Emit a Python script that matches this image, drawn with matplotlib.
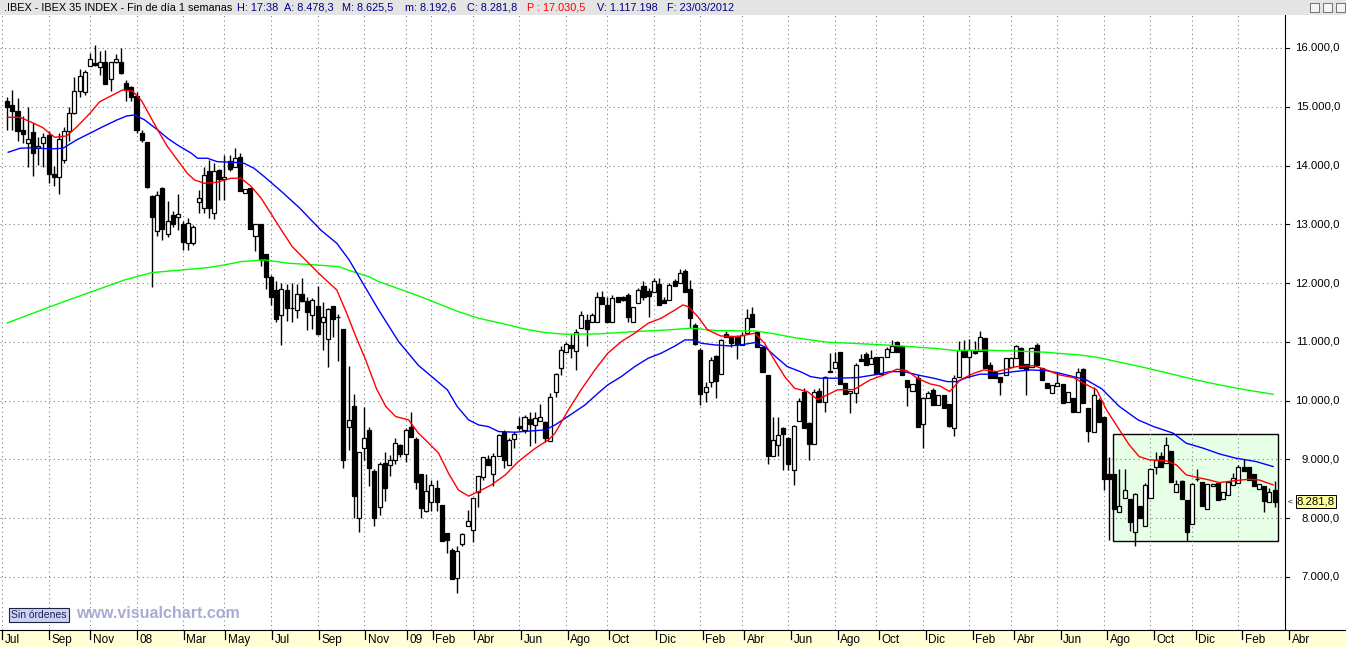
import numpy as np
import pandas as pd
import matplotlib
matplotlib.use("Agg")
import matplotlib.pyplot as plt
from matplotlib.patches import Rectangle

plt.rcParams['font.family'] = ['Liberation Sans', 'DejaVu Sans']

# weekly candles, week 1 = 13/07/2007 ... week 246 = 23/03/2012 (week 0 = 06/07/2007)
opens = [
    15100, 15030, 14930, 14610, 14390, 14570, 14300, 14380, 14520, 13860,
    13810, 14100, 14580, 14900, 15260, 15250, 15690, 15740, 15670, 15760,
    15470, 15760, 15760, 15410, 15340, 15180, 14550, 14400, 13480, 12880,
    13610, 12830, 13160, 13130, 13000, 12680, 12680, 13380, 13270, 13900,
    13200, 13930, 13770, 14080, 13980, 14150, 13530, 13610, 12800, 13000,
    12500, 12100, 11880, 11450, 11880, 11570, 11540, 11820, 11690, 11450,
    11610, 11340, 11050, 11610, 11420, 11220, 9560, 9910, 8000, 9190,
    9500, 8810, 8190, 8940, 8910, 8990, 9250, 9090, 9550, 9350,
    8750, 8120, 8280, 8510, 8230, 7750, 7460, 6980, 7560, 7870,
    7800, 8440, 8700, 9010, 8750, 9060, 9470, 8910, 9350, 9570,
    9500, 9680, 9590, 9660, 9640, 9320, 10140, 10550, 10820, 10950,
    10850, 11240, 11370, 11330, 11330, 11770, 11630, 11330, 11760, 11760,
    11800, 11340, 11660, 11950, 11860, 11850, 11980, 11710, 11710, 12030,
    12010, 12210, 11900, 11290, 10860, 10140, 10310, 10760, 10460, 11130,
    11080, 11100, 10950, 11150, 11470, 11160, 10920, 10440, 9060, 9240,
    9540, 9370, 8820, 9660, 10150, 9620, 9260, 10170, 9980, 10510,
    10550, 10820, 10300, 10130, 10130, 10710, 10790, 10630, 10740, 10460,
    10740, 10820, 10990, 10930, 10350, 10170, 10390, 9600, 10040, 10180,
    9930, 10100, 9950, 9540, 10400, 10860, 10740, 10850, 10850, 11060,
    10610, 10490, 10410, 10440, 10580, 10730, 10900, 10620, 10580, 10940,
    10560, 10300, 10130, 10250, 10290, 9970, 10050, 9800, 10540, 9880,
    9460, 10010, 9720, 8750, 8750, 8100, 8340, 8330, 7770, 8200,
    7860, 8350, 8870, 9050, 8940, 9150, 8450, 8640, 8310, 7900,
    8660, 8610, 8150, 8540, 8600, 8320, 8400, 8570, 8600, 8870,
    8870, 8750, 8490, 8540, 8280, 8478.3,
]
highs = [
    15170, 15290, 15150, 14840, 15000, 14720, 14490, 14550, 14590, 14000,
    14550, 14660, 14990, 15510, 15640, 15630, 15920, 16050, 15950, 15970,
    15760, 15900, 16000, 15460, 15360, 15250, 14600, 14400, 13500, 13560,
    13640, 13390, 13230, 13520, 13050, 13100, 12990, 13590, 13980, 14100,
    14040, 13940, 14180, 14180, 14290, 14210, 13600, 13620, 13000, 13000,
    12500, 12140, 12030, 12000, 11990, 12010, 11990, 12080, 11770, 11750,
    11950, 11670, 11570, 11610, 11480, 11220, 10590, 10120, 9130, 9900,
    9560, 8830, 8950, 9130, 9080, 9360, 9260, 9530, 9810, 9390,
    8750, 8750, 8650, 8650, 8230, 7750, 7490, 7520, 7750, 8140,
    8340, 8720, 9040, 9080, 9110, 9430, 9500, 9360, 9470, 9730,
    9760, 9810, 9810, 9940, 9650, 10130, 10470, 10930, 10990, 11140,
    11220, 11520, 11480, 11490, 11840, 11860, 11770, 11800, 11770, 11780,
    11830, 11600, 11920, 12030, 11910, 12080, 12080, 11770, 12000, 12070,
    12240, 12240, 12050, 11320, 10890, 10320, 10750, 10770, 11050, 11180,
    11100, 11110, 11170, 11560, 11600, 11170, 10920, 10440, 9730, 9730,
    9560, 9390, 9580, 10040, 10210, 9640, 10190, 10210, 10420, 10810,
    10830, 10830, 10300, 10170, 10640, 10790, 10830, 10860, 10740, 10740,
    10920, 11030, 11020, 10930, 10350, 10280, 10440, 10070, 10160, 10210,
    10100, 10100, 9950, 10440, 11020, 11030, 11050, 11020, 11180, 11060,
    10660, 10500, 10410, 10720, 10740, 10950, 10910, 10620, 10910, 10980,
    10560, 10300, 10270, 10490, 10290, 10140, 10050, 10560, 10560, 9880,
    10240, 10040, 9720, 9040, 8750, 8830, 8830, 8330, 8430, 8200,
    8600, 8850, 9120, 9120, 9380, 9150, 8650, 8650, 8310, 8600,
    8830, 8610, 8580, 8580, 8600, 8450, 8610, 8770, 8910, 9000,
    8870, 8750, 8580, 8540, 8510, 8625.5,
]
lows = [
    14610, 14610, 14410, 14380, 13980, 13830, 14010, 13980, 13700, 13650,
    13520, 14040, 14410, 14880, 15170, 15200, 15690, 15690, 15540, 15380,
    15260, 15740, 15560, 15100, 15100, 14550, 14400, 13610, 11940, 12800,
    12730, 12790, 12960, 12900, 12560, 12560, 12650, 13190, 13190, 13110,
    13090, 13420, 13420, 13900, 13980, 13570, 13530, 12920, 12540, 12290,
    11900, 11630, 11340, 10940, 11360, 11330, 11400, 11680, 11200, 11220,
    11120, 10860, 10580, 11090, 10680, 8850, 9160, 8000, 7760, 8990,
    8540, 7860, 8050, 8300, 8720, 8920, 9040, 8960, 9380, 8500,
    8000, 8100, 8130, 8130, 7620, 7400, 6960, 6730, 7530, 7870,
    7600, 8190, 8650, 8900, 8540, 9060, 8850, 8910, 9190, 9500,
    9450, 9220, 9280, 9660, 9300, 9320, 10070, 10440, 10820, 10720,
    10520, 11240, 10930, 11330, 11330, 11640, 11330, 11330, 11670, 11700,
    11340, 11340, 11660, 11710, 11430, 11850, 11630, 11660, 11710, 11950,
    12010, 11840, 11230, 10940, 9930, 9980, 10230, 10050, 10460, 11080,
    10920, 10710, 10950, 11150, 11260, 10920, 10490, 8920, 9060, 9050,
    8820, 8820, 8570, 9660, 9540, 8990, 9260, 9980, 9810, 10480,
    10550, 10280, 10110, 9790, 9960, 10680, 10610, 10630, 10450, 10460,
    10740, 10820, 10820, 10430, 9910, 10170, 9560, 9200, 10040, 9920,
    9930, 9870, 9560, 9400, 10400, 10750, 10390, 10800, 10850, 10560,
    10390, 10390, 10090, 10440, 10580, 10730, 10560, 10100, 10580, 10610,
    10350, 10220, 10130, 10250, 9960, 9970, 9810, 9800, 9960, 9300,
    9460, 9640, 8480, 7630, 8150, 8100, 8340, 7790, 7520, 8010,
    7860, 8350, 8750, 8870, 8940, 8610, 8450, 8320, 7620, 7900,
    8640, 8210, 8150, 8540, 8310, 8320, 8400, 8570, 8600, 8810,
    8650, 8540, 8490, 8110, 8280, 8192.6,
]
closes = [
    15000, 14920, 14580, 14540, 14450, 14220, 14330, 14490, 13860, 13810,
    14450, 14580, 14890, 15260, 15520, 15590, 15810, 15710, 15760, 15380,
    15760, 15810, 15570, 15290, 15170, 14600, 14430, 13640, 13130, 13500,
    12920, 13060, 13010, 13170, 12700, 13020, 12960, 13440, 13840, 13270,
    13910, 13770, 13800, 13940, 14120, 13570, 13600, 12920, 13000, 12390,
    12100, 11770, 11390, 11900, 11580, 11570, 11820, 11690, 11500, 11710,
    11140, 11420, 11560, 11390, 11420, 8990, 9670, 8370, 9130, 9360,
    8850, 8000, 8920, 8510, 8990, 9280, 9090, 9500, 9390, 8620,
    8180, 8470, 8570, 8280, 7620, 7630, 6960, 7440, 7730, 7960,
    8340, 8710, 9040, 8910, 9060, 9420, 8990, 9330, 9430, 9530,
    9720, 9600, 9700, 9730, 9360, 10060, 10450, 10860, 10960, 10900,
    11160, 11460, 11220, 11460, 11770, 11640, 11330, 11740, 11670, 11720,
    11420, 11590, 11880, 11770, 11780, 12030, 11630, 11660, 11970, 11950,
    12180, 11840, 11400, 10960, 10110, 10230, 10690, 10340, 11030, 11080,
    10980, 10970, 11120, 11410, 11260, 10920, 10490, 9050, 9330, 9420,
    9430, 8920, 9570, 10000, 9540, 9260, 10150, 9980, 10400, 10480,
    10650, 10280, 10110, 10170, 10600, 10680, 10610, 10730, 10450, 10740,
    10880, 10930, 10820, 10430, 10230, 10280, 9560, 10040, 10130, 9920,
    10100, 9870, 9570, 10390, 10860, 10750, 10860, 10810, 11080, 10560,
    10390, 10390, 10320, 10720, 10730, 10930, 10560, 10520, 10900, 10610,
    10350, 10220, 10270, 10300, 9960, 10140, 9810, 10490, 9960, 9490,
    10090, 9640, 8670, 8670, 8150, 8210, 8480, 7930, 8410, 8010,
    8570, 8830, 8990, 8870, 9250, 8610, 8580, 8320, 7770, 8580,
    8670, 8210, 8580, 8580, 8310, 8450, 8610, 8680, 8870, 8810,
    8650, 8540, 8580, 8300, 8450, 8281.8,
]

# moving averages (week number, value)
red_wk = [1.0, 3.5, 6.0, 7.9, 9.2, 10.2, 12.5, 14.5, 17.0, 18.9,
          20.8, 23.3, 25.2, 27.0, 30.1, 32.0, 33.9, 35.8, 37.2, 39.1,
          41.6, 44.3, 46.2, 48.2, 50.1, 54.0, 56.1, 59.3, 60.9, 62.6,
          64.7, 66.5, 68.4, 70.3, 72.4, 74.2, 76.1, 78.6, 80.5, 82.5,
          84.4, 86.3, 88.2, 90.2, 92.1, 94.6, 97.3, 99.8, 103.1, 105.6,
          106.9, 109.4, 111.9, 114.6, 117.1, 119.7, 122.3, 124.9, 127.4, 130.1,
          131.6, 132.6, 134.5, 136.4, 138.9, 142.2, 145.5, 147.4, 149.3, 151.3,
          153.2, 155.7, 157.6, 159.5, 161.5, 164.7, 167.8, 170.5, 173.0, 174.9,
          176.9, 179.4, 181.3, 183.2, 185.2, 187.9, 189.8, 192.3, 196.1, 199.4,
          201.9, 204.4, 207.1, 209.1, 211.6, 213.5, 216.0, 217.9, 219.8, 221.8,
          225.0, 227.0, 228.9, 230.8, 233.3, 235.3, 238.5, 241.0, 243.0, 245.7]
red_val = [14821, 14820, 14724, 14645, 14549, 14481, 14503, 14661, 14889, 15087,
           15172, 15286, 15269, 15100, 14605, 14321, 14095, 13869, 13755, 13698,
           13716, 13784, 13784, 13641, 13443, 12904, 12620, 12337, 12195, 12054,
           11884, 11515, 11089, 10693, 10200, 9899, 9729, 9672, 9446, 9276,
           9106, 8766, 8482, 8375, 8453, 8567, 8737, 8964, 9191, 9332,
           9446, 9830, 10180, 10523, 10807, 11004, 11147, 11317, 11402, 11543,
           11628, 11600, 11430, 11203, 11101, 11089, 11147, 10977, 10693, 10409,
           10211, 10154, 10020, 10097, 10183, 10190, 10353, 10438, 10535, 10511,
           10382, 10285, 10250, 10154, 10353, 10467, 10523, 10494, 10579, 10596,
           10523, 10438, 10392, 10296, 10183, 9842, 9502, 9247, 9049, 8992,
           8980, 8907, 8737, 8698, 8652, 8606, 8640, 8663, 8650, 8567]

blue_wk = [1.2, 3.5, 6.0, 9.2, 11.8, 14.4, 17.0, 19.5, 22.2, 24.1,
           25.6, 27.5, 30.1, 32.0, 33.9, 36.6, 37.8, 39.7, 41.6, 44.9,
           46.8, 48.7, 50.7, 54.0, 57.5, 61.6, 64.7, 67.1, 69.0, 70.9, 72.8,
           76.7, 80.5, 86.1, 88.0, 90.2, 92.1, 94.0, 96.0, 99.2, 102.3,
           105.0, 106.9, 108.9, 110.8, 112.7, 115.2, 117.1, 119.7, 122.3, 124.9,
           127.4, 130.1, 132.0, 133.9, 135.1, 137.8, 140.6, 142.8, 145.5, 147.4,
           149.9, 151.8, 154.3, 156.3, 158.2, 161.5, 165.3, 168.6, 171.7, 174.4,
           176.9, 180.1, 182.7, 184.6, 186.5, 189.0, 192.3, 195.6, 198.7, 201.9,
           204.4, 207.1, 209.6, 212.6, 216.0, 219.6, 222.6, 226.4, 228.9, 232.2,
           235.3, 238.5, 242.4, 245.7]
blue_val = [14226, 14294, 14304, 14282, 14294, 14435, 14549, 14661, 14775, 14843,
            14860, 14780, 14605, 14464, 14350, 14209, 14124, 14124, 14066, 14055,
            14038, 13954, 13811, 13560, 13280, 12904, 12678, 12394, 12110, 11827, 11543,
            11000, 10600, 10183, 9899, 9672, 9587, 9559, 9474, 9463, 9485,
            9502, 9587, 9701, 9814, 9927, 10126, 10268, 10409, 10579, 10721,
            10807, 10931, 11033, 11033, 10977, 10948, 10931, 10948, 10988, 10919,
            10721, 10579, 10494, 10409, 10382, 10382, 10392, 10438, 10494, 10494,
            10438, 10382, 10324, 10324, 10392, 10450, 10450, 10494, 10523, 10510,
            10467, 10409, 10353, 10200, 9900, 9672, 9559, 9446, 9276, 9191,
            9094, 9021, 8964, 8879]

green_wk = [1.0, 11.2, 23.7, 28.9, 33.3, 39.7, 43.0, 46.2, 50.7, 55.5,
            60.7, 65.1, 68.4, 70.9, 72.8, 80.0, 88.2, 92.1, 96.5, 101.2,
            105.0, 108.9, 115.2, 122.3, 128.7, 133.1, 138.3, 145.5, 148.6, 153.2,
            159.5, 164.0, 170.5, 175.5, 180.1, 184.6, 189.0, 195.6, 201.9, 203.9,
            208.3, 211.6, 221.0, 230.8, 235.3, 240.5, 245.7]
green_val = [11322, 11660, 12054, 12178, 12212, 12263, 12309, 12365, 12394, 12337,
             12309, 12280, 12178, 12110, 12025, 11800, 11515, 11402, 11317, 11215,
             11158, 11130, 11135, 11175, 11203, 11232, 11192, 11186, 11147, 11072,
             10994, 10977, 10948, 10919, 10891, 10851, 10860, 10846, 10823, 10807,
             10778, 10739, 10560, 10353, 10268, 10183, 10109]

# month labels on the time axis
month_labels = [(2007, 7, 'Jul'), (2007, 9, 'Sep'), (2007, 11, 'Nov'), (2008, 1, '08'),
                (2008, 3, 'Mar'), (2008, 5, 'May'), (2008, 7, 'Jul'), (2008, 9, 'Sep'),
                (2008, 11, 'Nov'), (2009, 1, '09'), (2009, 2, 'Feb'), (2009, 4, 'Abr'),
                (2009, 6, 'Jun'), (2009, 8, 'Ago'), (2009, 10, 'Oct'), (2009, 12, 'Dic'),
                (2010, 2, 'Feb'), (2010, 4, 'Abr'), (2010, 6, 'Jun'), (2010, 8, 'Ago'),
                (2010, 10, 'Oct'), (2010, 12, 'Dic'), (2011, 2, 'Feb'), (2011, 4, 'Abr'),
                (2011, 6, 'Jun'), (2011, 8, 'Ago'), (2011, 10, 'Oct'), (2011, 12, 'Dic'),
                (2012, 2, 'Feb'), (2012, 4, 'Abr')]
price_ticks = list(range(7000, 17000, 1000))

# highlighted zone (weeks, prices)
zone_weeks = (214.8, 246.6)
zone_prices = (7613, 9433)


def es(v):
    """Spanish number format 8.281,8"""
    s = f"{v:,.1f}"
    return s.replace(',', 'X').replace('.', ',').replace('X', '.')


W, H = 1346, 647
X0, PXW = 2.0, 5.19          # pixel of week 0, pixels per week
Y_TOP, Y_BOT = 16561, 6098   # prices at top / bottom of the plot area


def box(x0, y0, x1, y1):
    return [x0 / W, 1 - y1 / H, (x1 - x0) / W, (y1 - y0) / H]


fig = plt.figure(figsize=(W / 100, H / 100), dpi=100)
fig.patch.set_facecolor('white')

ax = fig.add_axes(box(0, 15, 1285, 630))
ax.set_xlim(-X0 / PXW, (1285 - X0) / PXW)
ax.set_ylim(Y_BOT, Y_TOP)
for s in ax.spines.values():
    s.set_visible(False)

dates = pd.date_range('2007-07-06', periods=270, freq='W-FRI')
tick_pos = []
for y, m, lab in month_labels:
    idx = np.where((dates.year == y) & (dates.month == m))[0][0]
    tick_pos.append(idx)

ax.set_xticks(tick_pos)
ax.set_yticks(price_ticks)
ax.tick_params(length=0, labelbottom=False, labelleft=False)
ax.set_axisbelow(True)
ax.grid(True, color='#808080', linestyle=(0, (1, 3)), linewidth=0.8)

ax.add_patch(Rectangle((zone_weeks[0], zone_prices[0]), zone_weeks[1] - zone_weeks[0],
                       zone_prices[1] - zone_prices[0], facecolor='#e6ffe6',
                       edgecolor='black', linewidth=1.0, zorder=0.3))

wk = np.arange(1, len(closes) + 1)
o = np.array(opens)
c = np.array(closes)
hi = np.array(highs)
lo = np.array(lows)
up = c >= o
ax.vlines(wk, lo, hi, color='black', linewidth=1.0, zorder=2)
ax.bar(wk, np.abs(c - o), bottom=np.minimum(o, c), width=0.78,
       color=np.where(up, 'white', 'black'), edgecolor='black', linewidth=0.9, zorder=3)

ax.plot(green_wk, green_val, color='#00ff00', linewidth=1.0, zorder=4)
ax.plot(blue_wk, blue_val, color='#0000ff', linewidth=1.0, zorder=4)
ax.plot(red_wk, red_val, color='#ff0000', linewidth=1.0, zorder=4)

# price scale on the right
axr = fig.add_axes(box(1285, 15, 1346, 630))
axr.set_xlim(0, 61)
axr.set_ylim(Y_BOT, Y_TOP)
axr.set_xticks([])
axr.set_yticks([])
axr.set_facecolor('white')
for k, s in axr.spines.items():
    s.set_visible(k == 'left')
for v in price_ticks:
    axr.text(55, v, es(v), ha='right', va='center', fontsize=8.2, color='black')
    axr.plot([0, 4], [v, v], color='black', linewidth=0.8)
axr.text(3, closes[-1], '<', ha='left', va='center', fontsize=6, color='black')
axr.text(31, closes[-1], es(closes[-1]), ha='center', va='center', fontsize=8.2,
         bbox=dict(boxstyle='square,pad=0.12', facecolor='#ffff99', edgecolor='black', linewidth=0.7))

# time axis strip
axb = fig.add_axes(box(0, 630, 1346, 647))
axb.set_xlim(-X0 / PXW, (1346 - X0) / PXW)
axb.set_ylim(0, 1)
axb.set_facecolor('#ffffd6')
axb.set_xticks([])
axb.set_yticks([])
for k, s in axb.spines.items():
    s.set_visible(k == 'top')
for p, (y, m, lab) in zip(tick_pos, month_labels):
    axb.plot([p, p], [1, 0.45], color='black', linewidth=0.9)
    axb.text(p + 0.5, 0.42, lab, ha='left', va='center', fontsize=8.5, color='black')

# header bar
axh = fig.add_axes(box(0, 0, 1346, 15))
axh.set_xlim(0, W)
axh.set_ylim(15, 0)
axh.set_facecolor('#e4e4e4')
axh.set_xticks([])
axh.set_yticks([])
for s in axh.spines.values():
    s.set_visible(False)
navy = '#000080'
header = [(4, '.IBEX - IBEX 35 INDEX - Fin de día 1 semanas', 'black'),
          (237, 'H: 17:38', navy),
          (284, 'A: ' + es(opens[-1]), navy),
          (342, 'M: ' + es(highs[-1]), navy),
          (405, 'm: ' + es(lows[-1]), navy),
          (467, 'C: ' + es(closes[-1]), navy),
          (527, 'P : 17.030,5', '#ff0000'),
          (597, 'V: 1.117.198', navy),
          (667, 'F: 23/03/2012', navy)]
for x, txt, col in header:
    axh.text(x, 8, txt, ha='left', va='center', fontsize=7.8, color=col)
for bx in (1310, 1323, 1336):
    axh.add_patch(Rectangle((bx, 3), 9, 9, facecolor='#f4f4f4', edgecolor='#707070', linewidth=0.7))

# bottom-left labels
fig.text(11 / W, 1 - 615 / H, 'Sin órdenes', ha='left', va='center', fontsize=7.5,
         color='#202060', bbox=dict(boxstyle='square,pad=0.2', facecolor='#c8d4f0',
                                    edgecolor='#202040', linewidth=0.8))
fig.text(76 / W, 1 - 613 / H, 'www.visualchart.com', ha='left', va='center', fontsize=11.5,
         fontweight='bold', color='#a8acd4')

fig.savefig('out.png', dpi=100)
